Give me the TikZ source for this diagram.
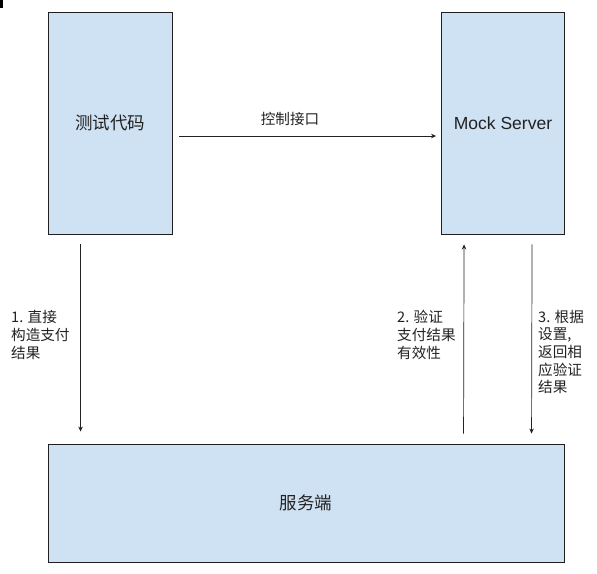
\documentclass[tikz,border=0pt]{standalone}
\usepackage{fontspec}
\setmainfont{Liberation Sans}
\newfontfamily\cjk{Noto Sans CJK SC}
\usepackage{xcolor}
\usepackage{tikz}
\usetikzlibrary{arrows.meta,positioning,calc}
\definecolor{Ink}{HTML}{222222}
\definecolor{BoxLine}{HTML}{1F1F1F}
\definecolor{BoxFill}{HTML}{CFE2F3}

\begin{document}
\begin{tikzpicture}[
  x=1pt,y=-1pt,
  block/.style={draw=BoxLine,fill=BoxFill,line width=0.9pt,inner sep=0pt,font=\fontsize{17.5}{21}\selectfont,text=Ink},
  lbl/.style={inner sep=0pt,align=left,font=\cjk\fontsize{14.6}{17.6}\selectfont,text=Ink},
  edge/.style={-{Stealth[length=5pt,width=4.5pt]},line width=0.7pt,draw=Ink}
]
  \useasboundingbox (0,0) rectangle (597,573);
  \fill[black] (0,0) rectangle (3,8);
  \node[block,minimum width=124pt,minimum height=222pt] (code) at (110,123) {\cjk 测试代码};
  \node[block,minimum width=123pt,minimum height=222pt] (mock) at (503,123) {Mock Server};
  \node[block,minimum width=516pt,minimum height=118pt] (svc) at (306,503) {\cjk 服务端};
  \draw[edge] ($(code.east)+(7,13)$) -- ($(mock.west)+(-5,13)$);
  \node[lbl] (ctl) at (290,119) {控制接口};
  \draw[edge] ($(code.south west)+(33,10)$) -- ($(svc.north west)+(33,-12)$);
  \draw[edge] ($(svc.north west)+(416,-10)$) -- ($(mock.south west)+(23,10)$);
  \draw[edge] ($(mock.south west)+(91,10)$) -- ($(svc.north west)+(484,-10)$);
  \node[lbl,anchor=west] (step1) at (11,335) {1. 直接\\构造支付\\结果};
  \node[lbl,anchor=west] (step2) at (397,335) {2. 验证\\支付结果\\有效性};
  \node[lbl,anchor=west] (step3) at (538,352) {3. 根据\\设置,\\返回相\\应验证\\结果};
\end{tikzpicture}
\end{document}
